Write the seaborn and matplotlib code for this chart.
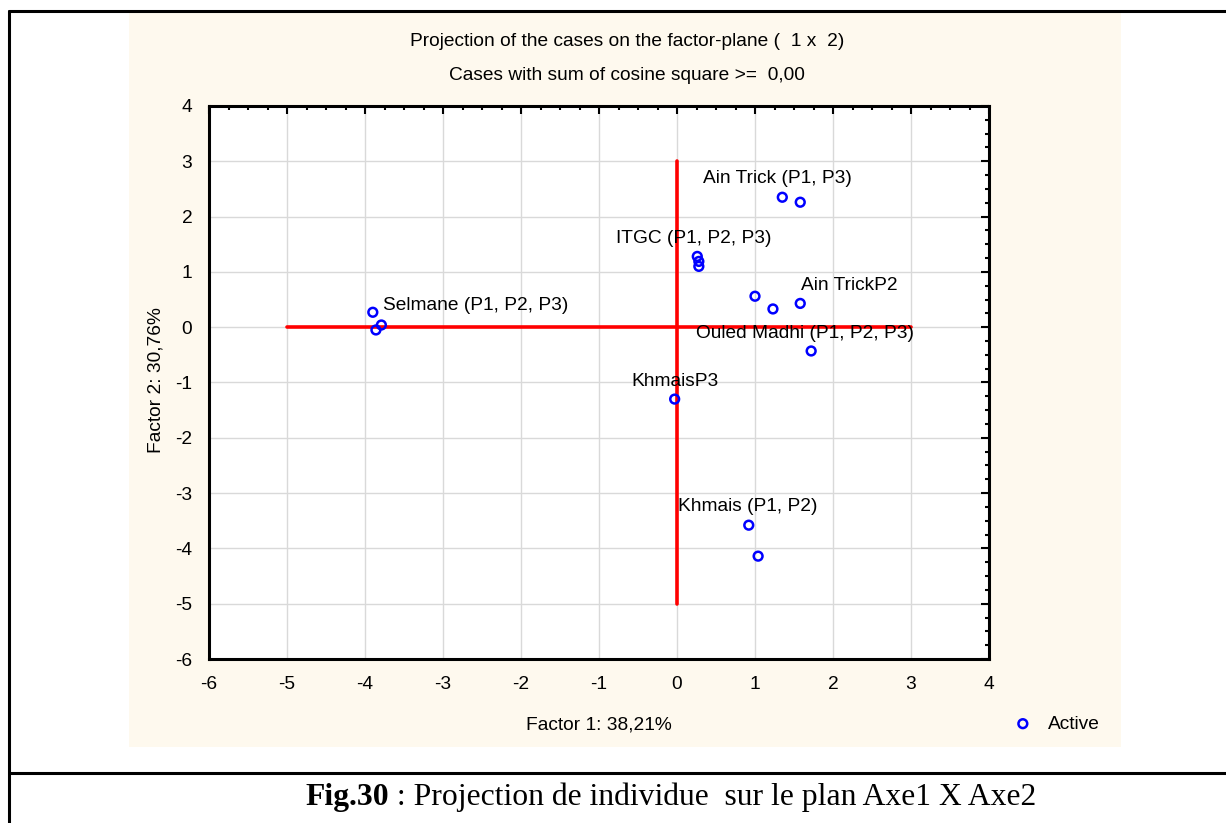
"""
Factor-plane projection (Factor 1 x Factor 2) of the sampling cases,
redrawn in the Statistica look: beige panel, red origin cross, open blue circles.
"""

import matplotlib
matplotlib.use("Agg")
import matplotlib.pyplot as plt
from matplotlib.ticker import AutoMinorLocator
from matplotlib.lines import Line2D
from matplotlib.patches import Rectangle
import pandas as pd
import seaborn as sns

# ---------------------------------------------------------------------------
# Data
# ---------------------------------------------------------------------------

factor1 = [-3.90, -3.86, -3.79, 1.35, 1.58, 0.26, 0.28, 0.28,
           1.00, 1.23, 1.58, 1.72, -0.03, 0.92, 1.04]
factor2 = [0.27, -0.05, 0.04, 2.35, 2.26, 1.28, 1.19, 1.10,
           0.56, 0.33, 0.43, -0.43, -1.30, -3.58, -4.14]

label_texts = ["Ain Trick (P1, P3)", "ITGC (P1, P2, P3)", "Ain TrickP2",
               "Selmane (P1, P2, P3)", "Ouled Madhi (P1, P2, P3)",
               "KhmaisP3", "Khmais (P1, P2)"]
label_x = [0.33, -0.78, 1.59, -3.77, 0.24, -0.58, 0.01]
label_y = [2.69, 1.61, 0.76, 0.40, -0.11, -0.98, -3.25]

# red origin cross
hline_x = [-5, 3]
vline_y = [-5, 3]

x_ticks = list(range(-6, 5))
y_ticks = list(range(-6, 5))

title_1 = "Projection of the cases on the factor-plane (  1 x  2)"
title_2 = "Cases with sum of cosine square >=  0,00"
x_label = "Factor 1: 38,21%"
y_label = "Factor 2: 30,76%"
caption_bold = "Fig.30"
caption_rest = " : Projection de individue  sur le plan Axe1 X Axe2"

# ---------------------------------------------------------------------------
# Figure
# ---------------------------------------------------------------------------

W, H = 1226, 823
FS = 13.8
sns.set_style("white")
plt.rcParams["font.family"] = ["Liberation Sans", "DejaVu Sans"]
plt.rcParams["text.color"] = "black"
plt.rcParams["xtick.color"] = "black"
plt.rcParams["ytick.color"] = "black"
plt.rcParams["axes.unicode_minus"] = False


def fx(px):
    return px / W


def fy(py):
    return 1 - py / H


fig = plt.figure(figsize=(W / 100, H / 100), dpi=100, facecolor="white")

# outer frame and beige panel
fig.patches.append(Rectangle((fx(129), fy(747)), fx(1121) - fx(129), fy(13) - fy(747),
                             transform=fig.transFigure, facecolor="#FEF9EE",
                             edgecolor="none", zorder=-10))
for xs, ys in [([9, 9], [11, H]), ([9, W], [11, 11]), ([9, W], [773, 773])]:
    fig.add_artist(Line2D([fx(v) for v in xs], [fy(v) for v in ys],
                          color="black", lw=2.2, transform=fig.transFigure))

ax = fig.add_axes([fx(209), fy(659), fx(989) - fx(209), fy(106) - fy(659)])
ax.set_zorder(1)
ax.set_facecolor("white")

df = pd.DataFrame({"f1": factor1, "f2": factor2})

ax.plot(hline_x, [0, 0], color="#FF0000", lw=2.6, zorder=2)
ax.plot([0, 0], vline_y, color="#FF0000", lw=2.6, zorder=2)

sns.scatterplot(data=df, x="f1", y="f2", ax=ax, marker="o", s=40,
                facecolors="none", edgecolor="#0000FF", linewidth=1.8,
                label="Active", zorder=3)

for txt, lx, ly in zip(label_texts, label_x, label_y):
    ax.text(lx, ly, txt, fontsize=FS, ha="left", va="center", color="black", zorder=4)

ax.set_xlim(-6, 4)
ax.set_ylim(-6, 4)
ax.set_xticks(x_ticks)
ax.set_yticks(y_ticks)
ax.xaxis.set_minor_locator(AutoMinorLocator(4))
ax.yaxis.set_minor_locator(AutoMinorLocator(4))
ax.tick_params(which="both", direction="in", top=True, right=True,
               color="black", width=1.5)
ax.tick_params(which="major", length=6, labelsize=FS, pad=12)
ax.tick_params(which="minor", length=3)
ax.grid(True, which="major", color="#D9D9D9", lw=1)
ax.set_axisbelow(True)
for sp in ax.spines.values():
    sp.set_color("black")
    sp.set_linewidth(2.2)

ax.set_xlabel("")
ax.set_ylabel("")
fig.text(fx(599), fy(725), x_label, fontsize=FS, ha="center", va="center")
fig.text(fx(156), fy(380), y_label, fontsize=FS, ha="center", va="center",
         rotation=90)
fig.text(fx(627), fy(42), title_1, fontsize=FS, ha="center", va="center")
fig.text(fx(627), fy(76), title_2, fontsize=FS, ha="center", va="center")

ax.legend(loc="center left", bbox_to_anchor=(fx(996), fy(724)),
          bbox_transform=fig.transFigure, frameon=False, fontsize=FS,
          handlelength=1.0, handletextpad=0.8, markerscale=1.0)

# caption, bold "Fig.30" followed by regular text
serif = ["Liberation Serif", "DejaVu Serif"]
t1 = fig.text(fx(305), fy(797), caption_bold, fontsize=22.8, fontweight="bold",
              family=serif, ha="left", va="center")
fig.canvas.draw()
bb = t1.get_window_extent(renderer=fig.canvas.get_renderer())
fig.text(bb.x1 / W, fy(797), caption_rest, fontsize=22.8, family=serif,
         ha="left", va="center")

fig.savefig("out.png", dpi=100, facecolor="white")
plt.close(fig)
